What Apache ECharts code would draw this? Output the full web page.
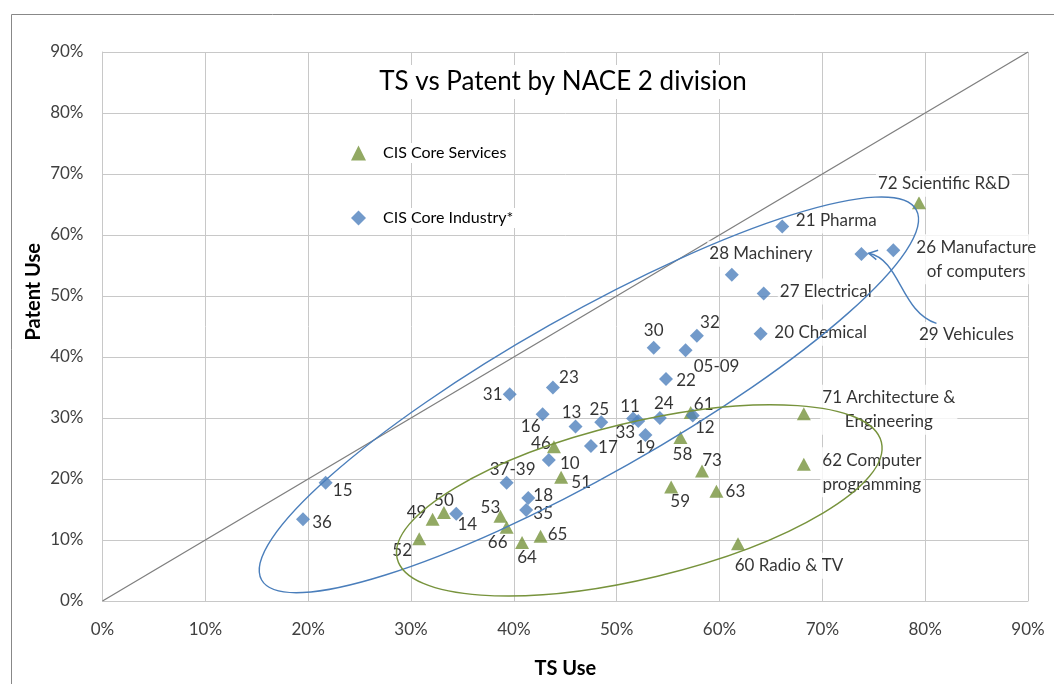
<!DOCTYPE html>
<html>
<head>
<meta charset="utf-8">
<title>TS vs Patent by NACE 2 division</title>
<script src="https://cdn.jsdelivr.net/npm/echarts@6.0.0/dist/echarts.min.js"></script>
<style>
  html, body { margin: 0; padding: 0; background: #fff; }
  #chart { width: 1054px; height: 684px; }
</style>
</head>
<body>
<div id="chart"></div>
<script>
// values in percent
const axisTicks = [0, 10, 20, 30, 40, 50, 60, 70, 80, 90];

const industryNames = ['05-09', '10', '11', '12', '13', '14', '15', '16', '17', '18', '19',
  '20 Chemical', '21 Pharma', '22', '23', '24', '25', '26 Manufacture\nof computers',
  '27 Electrical', '28 Machinery', '29 Vehicules', '30', '31', '32', '33', '35', '36', '37-39'];
const industryTS = [56.7, 43.4, 51.6, 57.4, 46.0, 34.4, 21.7, 42.8, 47.5, 41.4, 52.8,
  64.0, 66.1, 54.8, 43.8, 54.2, 48.5, 76.9, 64.3, 61.2, 73.8, 53.6, 39.6, 57.8, 52.1, 41.2, 19.5, 39.3];
const industryPatent = [41.1, 23.1, 29.9, 30.4, 28.6, 14.3, 19.4, 30.6, 25.4, 16.9, 27.2,
  43.8, 61.4, 36.4, 35.0, 30.0, 29.3, 57.5, 50.4, 53.5, 56.9, 41.5, 33.9, 43.5, 29.5, 14.9, 13.4, 19.4];

const servicesNames = ['46', '49', '50', '51', '52', '53', '58', '59', '60 Radio & TV', '61',
  '62 Computer\nprogramming', '63', '64', '65', '66', '71 Architecture &\nEngineering',
  '72 Scientific R&D', '73'];
const servicesTS = [43.9, 32.1, 33.2, 44.6, 30.8, 38.7, 56.2, 55.3, 61.8, 57.2, 68.2, 59.7,
  40.8, 42.6, 39.3, 68.2, 79.4, 58.3];
const servicesPatent = [25.3, 13.4, 14.5, 20.3, 10.2, 13.9, 26.8, 18.7, 9.4, 30.9, 22.4, 18.0,
  9.6, 10.6, 12.1, 30.7, 65.3, 21.3];

const diagonal = [[0, 0], [90, 90]];

// label placement (px offset of label centre from the marker)
const labelOffset = {
  '05-09': [31, 16], '10': [21, 3], '11': [-3, -12], '12': [12, 12], '13': [-4, -14],
  '14': [11, 11], '15': [17, 8], '16': [-12, 12], '17': [17, 1], '18': [15, -2], '19': [0, 12],
  '20 Chemical': [60, -1], '21 Pharma': [54, -6], '22': [20, 2], '23': [16, -10], '24': [4, -14],
  '25': [-2, -13], '26 Manufacture\nof computers': [83, 9], '27 Electrical': [62, -2],
  '28 Machinery': [29, -21], '29 Vehicules': [105, 81], '30': [0, -17], '31': [-17, 0],
  '32': [13, -13], '33': [-13, 11], '35': [17, 3], '36': [19, 3], '37-39': [6, -13],
  '46': [-13, -3], '49': [-16, -7], '50': [0, -12], '51': [20, 5], '52': [-17, 12],
  '53': [-10, -9], '58': [2, 17], '59': [9, 15], '60 Radio & TV': [51, 22], '61': [13, -8],
  '62 Computer\nprogramming': [68, 8], '63': [19, 0], '64': [5, 15], '65': [17, -2],
  '66': [-9, 15], '71 Architecture &\nEngineering': [85, -4], '72 Scientific R&D': [25, -19],
  '73': [10, -11]
};

// hand drawn notes on top of the chart
const ellipses = [
  { center: [47.3, 33.8], rx: 376, ry: 80, angle: 29.5, color: '#4a7ebb' },
  { center: [52.2, 16.5], rx: 249, ry: 78, angle: 13.5, color: '#77933c' }
];
const arrowCurve = [[81.1, 45.5], [77.6, 47.4], [77.6, 56.0], [74.5, 57.0]];

const FONT = 'Lato, "Open Sans", sans-serif';

function makePoints(names, xs, ys) {
  return names.map(function (n, i) {
    const long = n.length > 5;
    return {
      name: n,
      value: [xs[i], ys[i]],
      label: {
        offset: labelOffset[n] || [0, 0],
        backgroundColor: long ? '#fff' : 'transparent',
        padding: long ? [1, 2] : 0
      }
    };
  });
}

function renderNotes(params, api) {
  const kids = [];
  ellipses.forEach(function (e) {
    const c = api.coord(e.center);
    kids.push({
      type: 'ellipse',
      x: c[0], y: c[1],
      rotation: e.angle * Math.PI / 180,
      shape: { cx: 0, cy: 0, rx: e.rx, ry: e.ry },
      style: { fill: null, stroke: e.color, lineWidth: 1.4 }
    });
  });
  const p = arrowCurve.map(function (d) { return api.coord(d); });
  kids.push({
    type: 'bezierCurve',
    shape: { x1: p[0][0], y1: p[0][1], cpx1: p[1][0], cpy1: p[1][1],
      cpx2: p[2][0], cpy2: p[2][1], x2: p[3][0], y2: p[3][1] },
    style: { fill: null, stroke: '#4a7ebb', lineWidth: 1.4 }
  });
  // open arrow head
  const dx = p[3][0] - p[2][0], dy = p[3][1] - p[2][1];
  const ang = Math.atan2(dy, dx);
  const len = 10, spread = 0.5;
  kids.push({
    type: 'polyline',
    shape: { points: [
      [p[3][0] - len * Math.cos(ang - spread), p[3][1] - len * Math.sin(ang - spread)],
      p[3],
      [p[3][0] - len * Math.cos(ang + spread), p[3][1] - len * Math.sin(ang + spread)]
    ] },
    style: { fill: null, stroke: '#4a7ebb', lineWidth: 1.4 }
  });
  return { type: 'group', children: kids };
}

const chart = echarts.init(document.getElementById('chart'));

const axisCommon = {
  type: 'value',
  min: axisTicks[0],
  max: axisTicks[axisTicks.length - 1],
  interval: 10,
  axisLine: { show: true, lineStyle: { color: '#c8c8c8', width: 1 } },
  axisTick: { show: false },
  splitLine: { show: true, lineStyle: { color: '#c8c8c8', width: 1 } },
  axisLabel: { formatter: '{value}%', color: '#404040', fontSize: 17, fontFamily: FONT },
  nameTextStyle: { color: '#000', fontSize: 20, fontWeight: 'bold', fontFamily: FONT }
};

chart.setOption({
  animation: false,
  backgroundColor: '#fff',
  textStyle: { fontFamily: FONT },
  title: {
    text: 'TS vs Patent by NACE 2 division',
    left: 553,
    top: 65,
    textAlign: 'center',
    backgroundColor: '#fff',
    padding: [4, 10],
    textStyle: { fontSize: 26, fontWeight: 'normal', color: '#000', fontFamily: FONT }
  },
  legend: {
    orient: 'vertical',
    left: 346,
    top: 138,
    itemGap: 45,
    itemWidth: 15,
    itemHeight: 15,
    data: ['CIS Core Services', 'CIS Core Industry*'],
    textStyle: { fontSize: 16, color: '#000', fontFamily: FONT, backgroundColor: '#fff',
      padding: [2, 4, 2, 12] }
  },
  graphic: [
    { type: 'rect', left: 9, top: 12, silent: true, z: -1,
      shape: { width: 1100, height: 800 },
      style: { fill: null, stroke: '#888', lineWidth: 1 } },
    { type: 'text', left: 24, top: 243, rotation: Math.PI / 2, silent: true,
      style: { text: 'Patent Use', fontSize: 20, fontWeight: 'bold', fill: '#000', fontFamily: FONT } }
  ],
  grid: { left: 102.5, right: 26, top: 52, bottom: 76 },
  xAxis: Object.assign({}, axisCommon, {
    name: 'TS Use',
    nameLocation: 'middle',
    nameGap: 58,
    axisLabel: Object.assign({}, axisCommon.axisLabel, { margin: 20 })
  }),
  yAxis: Object.assign({}, axisCommon, {
    axisLabel: Object.assign({}, axisCommon.axisLabel, { margin: 19 })
  }),
  series: [
    {
      type: 'line',
      data: diagonal,
      symbol: 'none',
      silent: true,
      z: 1,
      lineStyle: { color: '#7f7f7f', width: 1.3 }
    },
    {
      name: 'CIS Core Services',
      type: 'scatter',
      symbol: 'triangle',
      symbolSize: [14, 13],
      z: 3,
      itemStyle: { color: '#77933c' },
      label: { show: true, position: 'inside', formatter: '{b}', color: '#000',
        fontSize: 17, lineHeight: 24, fontFamily: FONT, align: 'center' },
      data: makePoints(servicesNames, servicesTS, servicesPatent)
    },
    {
      name: 'CIS Core Industry*',
      type: 'scatter',
      symbol: 'diamond',
      symbolSize: 14,
      z: 4,
      itemStyle: { color: '#4f81bd' },
      label: { show: true, position: 'inside', formatter: '{b}', color: '#000',
        fontSize: 17, lineHeight: 24, fontFamily: FONT, align: 'center' },
      data: makePoints(industryNames, industryTS, industryPatent)
    },
    {
      type: 'custom',
      silent: true,
      z: 10,
      renderItem: renderNotes,
      data: [[0, 0]]
    }
  ]
});
</script>
</body>
</html>
